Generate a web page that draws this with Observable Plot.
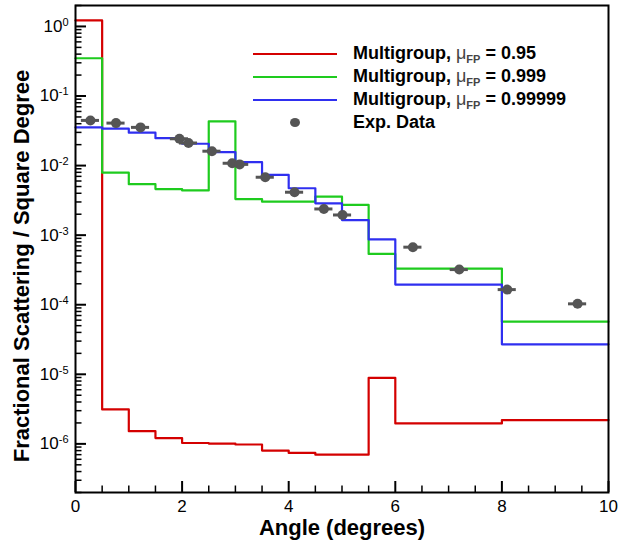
<!DOCTYPE html>
<html><head><meta charset="utf-8">
<script src="https://cdn.jsdelivr.net/npm/d3@7"></script>
<script src="https://cdn.jsdelivr.net/npm/@observablehq/plot@0.6"></script>
<style>
html,body{margin:0;padding:0;background:#fff;}
#wrap{position:relative;width:618px;height:542px;font-family:'Liberation Sans',Arial,Helvetica,sans-serif;}
.sw{position:absolute;height:2px;}
.dotsw{position:absolute;width:10px;height:9px;border-radius:50%;background:#555;}
.lt{position:absolute;height:22px;line-height:22px;font-size:18px;font-weight:bold;white-space:nowrap;color:#000;}
.mu{font-weight:normal;color:#444;}
.mu sub{font-size:11px;font-weight:bold;vertical-align:-4px;line-height:0;}
</style></head>
<body><div id="wrap"></div>
<script>
// Bin edges (degrees) shared by the multigroup step curves
const binEdges = [0, 0.5, 1, 1.5, 2, 2.5, 3, 3.5, 4, 4.5, 5, 5.5, 6, 8, 10];
// Values per bin
const red95 = [1.22, 3.13e-6, 1.52e-6, 1.21e-6, 1.03e-6, 1.01e-6, 0.98e-6, 0.80e-6, 0.74e-6, 0.70e-6, 0.70e-6, 8.9e-6, 1.97e-6, 2.2e-6];
const green999 = [0.349, 0.0079, 0.0054, 0.0046, 0.0044, 0.0432, 0.0033, 0.00303, 0.00303, 0.00357, 0.00272, 0.000537, 0.000331, 5.7e-5];
const blue99999 = [0.0354, 0.0339, 0.0297, 0.0248, 0.0206, 0.0156, 0.0112, 0.00735, 0.00472, 0.00287, 0.00165, 0.000867, 0.000195, 2.7e-5];
// Experimental data
const expX = [0.28, 0.76, 1.22, 1.95, 2.12, 2.56, 2.94, 3.08, 3.56, 4.11, 4.66, 5.01, 6.33, 7.2, 8.1, 9.42];
const expY = [0.0446, 0.0408, 0.0354, 0.0243, 0.0211, 0.0161, 0.0108, 0.0104, 0.0068, 0.00414, 0.00238, 0.00195, 0.000672, 0.00032, 0.000165, 0.000103];
const expErr = [0.17, 0.17, 0.17, 0.17, 0.17, 0.17, 0.17, 0.17, 0.17, 0.17, 0.17, 0.17, 0.17, 0.17, 0.17, 0.17];
// Series names and colours
const seriesValues = ["0.95", "0.999", "0.99999"];
const seriesColors = ["#d40000", "#1ecb1e", "#2f2ff0"];
const expColor = "#555555";
// Ticks
const xMajorTicks = [0, 2, 4, 6, 8, 10];
const xMinorTicks = [0.5, 1, 1.5, 2.5, 3, 3.5, 4.5, 5, 5.5, 6.5, 7, 7.5, 8.5, 9, 9.5];
const yMajorExp = [-6, -5, -4, -3, -2, -1, 0];
const yMinorMult = [2, 3, 4, 5, 6, 7, 8, 9];
const xLabel = "Angle (degrees)";
const yLabel = "Fractional Scattering / Square Degree";

const allSeries = [red95, green999, blue99999];
const lineData = [];
allSeries.forEach((vals, s) => {
  binEdges.forEach((x, i) => {
    lineData.push({series: seriesValues[s], x, y: vals[Math.min(i, vals.length - 1)]});
  });
});
const exp = expX.map((x, i) => ({x, y: expY[i], e: expErr[i]}));
const yMajor = yMajorExp.map(e => Math.pow(10, e));
const yMinor = [];
for (let e = -7; e <= 0; e++) for (const m of yMinorMult) {
  const v = m * Math.pow(10, e);
  if (v >= 2e-7 && v <= 2) yMinor.push(v);
}

const chart = Plot.plot({
  width: 618, height: 542,
  marginLeft: 75, marginRight: 10, marginTop: 5, marginBottom: 50,
  style: {fontFamily: "'Liberation Sans', Arial, Helvetica, sans-serif", fontSize: "16px", background: "white", color: "black", overflow: "visible"},
  x: {domain: [0, 10]},
  y: {type: "log", domain: [2e-7, 2]},
  color: {domain: seriesValues, range: seriesColors},
  marks: [
    Plot.line(lineData, {x: "x", y: "y", z: "series", stroke: d => d.series, curve: "step-after", strokeWidth: 2.2}),
    Plot.ruleY(exp, {y: "y", x1: d => d.x - d.e, x2: d => d.x + d.e, stroke: expColor, strokeWidth: 3}),
    Plot.dot(exp, {x: "x", y: "y", r: 5, fill: expColor, stroke: "none"}),
    Plot.axisX({ticks: xMinorTicks, tickSize: -6.5, tickFormat: () => "", label: null, strokeWidth: 1.5}),
    Plot.axisX({ticks: xMajorTicks, tickSize: -11, tickFormat: () => "", label: null, strokeWidth: 2}),
    Plot.axisX({ticks: xMajorTicks, tickSize: 0, tickPadding: 7, tickFormat: d => String(d), label: null, fontSize: 17}),
    Plot.axisY({ticks: yMinor, tickSize: -6.5, tickFormat: () => "", label: null, strokeWidth: 1.5}),
    Plot.axisY({ticks: yMajor, tickSize: -11, tickFormat: () => "", label: null, strokeWidth: 2}),
    Plot.axisY({ticks: yMajor, tickSize: 0, tickPadding: 7, tickFormat: d => "10^" + Math.round(Math.log10(d)), label: null, fontSize: 17}),
    Plot.frame({stroke: "black", strokeWidth: 2}),
    Plot.text([xLabel], {frameAnchor: "bottom", text: d => d, dy: 35, lineAnchor: "middle", textAnchor: "middle", fontSize: 22, fontWeight: "bold"}),
    Plot.text([yLabel], {frameAnchor: "left", text: d => d, rotate: -90, dx: -54, dy: 17, lineAnchor: "middle", textAnchor: "middle", fontSize: 22, fontWeight: "bold"})
  ]
});

// superscript exponents on y tick labels
d3.select(chart).selectAll("text").each(function() {
  const t = this.textContent;
  const m = /^10\^(-?\d+)$/.exec(t);
  if (m) {
    const sel = d3.select(this);
    sel.selectAll("*").remove();
    sel.text("10");
    sel.append("tspan").attr("dy", "-0.55em").attr("font-size", "11px").text(m[1]);
  }
});

const wrap = document.getElementById("wrap");
wrap.appendChild(chart);

// Legend
const rowsY = [54.3, 77, 99.7, 122.5];
seriesValues.forEach((v, i) => {
  const sw = document.createElement("div");
  sw.className = "sw";
  sw.style.left = "253px"; sw.style.width = "84px";
  sw.style.top = (rowsY[i] - 1) + "px";
  sw.style.background = seriesColors[i];
  wrap.appendChild(sw);
  const lt = document.createElement("div");
  lt.className = "lt";
  lt.style.left = "353px"; lt.style.top = (rowsY[i] - 12) + "px";
  lt.innerHTML = 'Multigroup, <span class="mu">\u03bc<sub>FP</sub></span> = ' + v;
  wrap.appendChild(lt);
});
const ds = document.createElement("div");
ds.className = "dotsw";
ds.style.left = "290px"; ds.style.top = (rowsY[3] - 4.5) + "px";
wrap.appendChild(ds);
const el = document.createElement("div");
el.className = "lt";
el.style.left = "353px"; el.style.top = (rowsY[3] - 12) + "px";
el.textContent = "Exp. Data";
wrap.appendChild(el);
</script>
</body></html>
